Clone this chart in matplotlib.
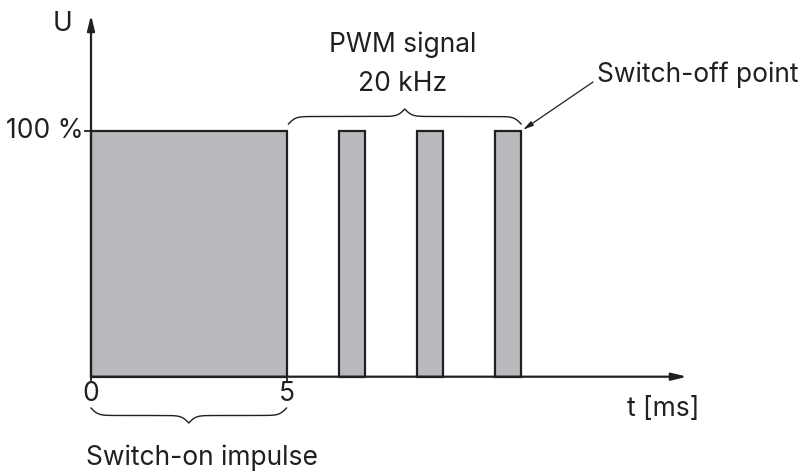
import numpy as np
import matplotlib
matplotlib.use("Agg")
import matplotlib.pyplot as plt

# ---- data ----
impulse_start = [0.0]
impulse_width = [5.0]
pwm_starts = [6.33, 8.33, 10.33]
pwm_width = [0.67, 0.67, 0.67]
level = 100
x_ticks = [0, 5]
x_tick_labels = ["0", "5"]
y_label_text = "100 %"

plt.rcParams['font.family'] = ['Inter', 'DejaVu Sans']

W, H = 805, 472
fig = plt.figure(figsize=(W / 100, H / 100), dpi=100)
ax = fig.add_axes([0, 0, 1, 1])
# pixel mapping: x_px = 91 + 39.1*ms ; y_px(top) = 376.7 - 2.46*pct
sx, ox = 39.1, 91.0
sy, oy = 2.46, 376.7
ax.set_xlim(-ox / sx, (W - ox) / sx)
ax.set_ylim(-(H - oy) / sy, oy / sy)
ax.axis('off')

ink = '#231f20'
fill = '#b8b9bc'

# bars
ax.bar(impulse_start, [level] * len(impulse_start), width=impulse_width, align='edge',
       color=fill, edgecolor=ink, linewidth=1.6, zorder=2)
ax.bar(pwm_starts, [level] * len(pwm_starts), width=pwm_width, align='edge',
       color=fill, edgecolor=ink, linewidth=1.6, zorder=2)

# axes with arrows
ax.annotate('', xy=((687 - ox) / sx, 0), xytext=(0, 0),
            arrowprops=dict(arrowstyle='-|>,head_length=0.9,head_width=0.22',
                            lw=1.6, color=ink, shrinkA=0, shrinkB=0), zorder=3)
ax.annotate('', xy=(0, (oy - 15) / sy), xytext=(0, 0),
            arrowprops=dict(arrowstyle='-|>,head_length=0.9,head_width=0.22',
                            lw=1.6, color=ink, shrinkA=0, shrinkB=0), zorder=3)

# tick marks
for t in x_ticks:
    ax.plot([t, t], [0, -5 / sy], color=ink, lw=1.3, zorder=3)
ax.plot([-6 / sx, 0], [level, level], color=ink, lw=1.3, zorder=3)

fs = 19
for t, lab in zip(x_ticks, x_tick_labels):
    ax.text(t, -(394 - oy) / sy, lab, ha='center', va='center', fontsize=fs, color=ink)
ax.text(-7 / sx, level, y_label_text, ha='right', va='center', fontsize=fs, color=ink)
ax.text((62 - ox) / sx, (oy - 24) / sy, "U", ha='center', va='center', fontsize=fs, color=ink)
ax.text((663 - ox) / sx, (oy - 409) / sy, "t [ms]", ha='center', va='center', fontsize=fs, color=ink)
ax.text((202 - ox) / sx, (oy - 458) / sy, "Switch-on impulse", ha='center', va='center', fontsize=fs, color=ink)
ax.text((403 - ox) / sx, (oy - 45) / sy, "PWM signal", ha='center', va='center', fontsize=fs, color=ink)
ax.text((403 - ox) / sx, (oy - 84) / sy, "20 kHz", ha='center', va='center', fontsize=fs, color=ink)
ax.text((597 - ox) / sx, (oy - 75) / sy, "Switch-off point", ha='left', va='center', fontsize=fs, color=ink)

# switch-off arrow
end_x = pwm_starts[-1] + pwm_width[-1]
ax.annotate('', xy=(end_x + 2 / sx, level + 1 / sy), xytext=((593 - ox) / sx, (oy - 82) / sy),
            arrowprops=dict(arrowstyle='-|>,head_length=0.6,head_width=0.15',
                            lw=0.9, color=ink, shrinkA=0, shrinkB=0), zorder=3)


def brace(x0, x1, y_end, height_px, direction):
    """Curly brace in data coords; direction=+1 tip up, -1 tip down."""
    n = 400
    xs_px = np.linspace(x0 * sx, x1 * sx, n)
    half = xs_px[: n // 2 + 1]
    beta = 0.28
    yh = (1 / (1 + np.exp(-beta * (half - half[0]))) +
          1 / (1 + np.exp(-beta * (half - half[-1]))))
    yv = np.concatenate((yh, yh[-2::-1]))
    xs_px = np.linspace(x0 * sx, x1 * sx, len(yv))
    y_px = (yv - 0.5) * height_px
    ax.plot(xs_px / sx, y_end + direction * y_px / sy, color=ink, lw=1.0, zorder=3)


brace(impulse_start[0], impulse_start[0] + impulse_width[0], -(408 - oy) / sy, 15, -1)
brace(impulse_start[0] + impulse_width[0] + 0.05, end_x, (oy - 124) / sy, 15, +1)

fig.savefig("out.png", dpi=100)
